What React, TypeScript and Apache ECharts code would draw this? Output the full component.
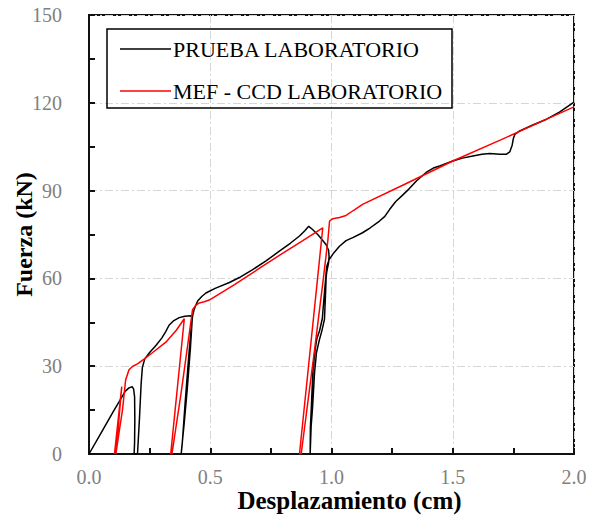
import React, { useEffect, useRef } from "react";
import * as echarts from "echarts";

const xTicks = { min: 0, max: 2, interval: 0.5 };
const yTicks = { min: 0, max: 150, interval: 30 };

const pruebaName = "PRUEBA LABORATORIO";
const mefName = "MEF - CCD LABORATORIO";

// Black curve: laboratory test (displacement cm, force kN)
const pruebaX = [
  0, 0.05, 0.1, 0.15, 0.165, 0.178, 0.184, 0.188, 0.189, 0.188, 0.186,
  0.2, 0.208, 0.215, 0.22, 0.23, 0.25, 0.275, 0.3, 0.317, 0.33, 0.35, 0.372, 0.395, 0.42,
  0.426, 0.418, 0.405, 0.392, 0.38,
  0.384, 0.396, 0.41, 0.422, 0.428, 0.434, 0.448, 0.465, 0.482, 0.52, 0.579, 0.62, 0.675, 0.73, 0.785, 0.83, 0.868, 0.89, 0.906,
  0.922, 0.945, 0.963, 0.978, 0.988, 0.99, 0.988, 0.98, 0.978, 0.976, 0.971, 0.96, 0.95, 0.938, 0.93, 0.922, 0.916, 0.912,
  0.913, 0.917, 0.923, 0.931, 0.939, 0.951, 0.962, 0.972, 0.977, 0.978, 0.981,
  0.99, 1.01, 1.033, 1.06, 1.09, 1.128, 1.16, 1.198, 1.22, 1.24, 1.265, 1.29, 1.32, 1.35, 1.39, 1.42, 1.446, 1.5, 1.54, 1.583, 1.62, 1.653, 1.694, 1.72, 1.735,
  1.745, 1.75, 1.756, 1.776, 1.83, 1.887, 1.94, 2.0,
];
const pruebaY = [
  0, 7.2, 14.5, 21.5, 22.6, 23, 22.2, 19.5, 12, 4, 0,
  0, 12, 24, 29.5, 32.5, 34.7, 37, 39.6, 41.9, 44, 45.6, 46.6, 47.1, 47.2,
  46.5, 36, 22, 10, 0,
  3, 17, 32, 44, 47.5, 49.5, 52.3, 53.8, 55, 56.6, 58.6, 60.3, 63, 66, 69.3, 72, 74.5, 76.3, 77.8,
  76.7, 74.8, 73, 71.5, 69.6, 67.5, 65.4, 62, 60.5, 56, 46, 42, 39, 34.6, 27.7, 16, 9.4, 0,
  9.2, 16.2, 27.8, 34.8, 39.2, 42.2, 46.2, 56.2, 60.8, 62.2, 64.2,
  66.4, 68.8, 71, 72.9, 74, 75.6, 77.3, 79.6, 81.2, 83.6, 86.3, 88.2, 90.6, 93.3, 96.2, 97.7, 98.4, 100.1, 101.1, 101.8, 102.4, 102.7, 102.4, 102.4, 103.2,
  105.5, 107.8, 109.2, 110.4, 112.4, 114.4, 116.8, 120.2,
];

// Red curve: FE model (MEF - CCD)
const mefX = [
  0.105, 0.135, 0.111,
  0.125, 0.138, 0.151, 0.165, 0.179, 0.2, 0.227, 0.26, 0.317, 0.36, 0.393,
  0.337, 0.342, 0.38, 0.41, 0.427, 0.44, 0.455, 0.475, 0.496, 0.6, 0.7, 0.785, 0.88, 0.964,
  0.868, 0.875, 0.93, 0.965, 0.985, 0.992, 1.005, 1.033, 1.06, 1.09, 1.128, 1.3, 1.5, 1.7, 1.887, 2.0,
];
const mefY = [
  0, 23, 0,
  8, 15, 25.3, 28.8, 29.9, 30.8, 32.4, 34.5, 38.2, 42.3, 46.2,
  0, 0, 21, 39, 49.3, 50.8, 51.6, 52, 52.6, 57.9, 63.3, 67.9, 72.8, 77.3,
  0, 0, 35.5, 59, 73, 79.6, 80.4, 80.8, 81.5, 83.2, 85.3, 92.1, 100.1, 107.4, 114.4, 118.6,
];

const zip = (xs: number[], ys: number[]) => xs.map((x, i) => [x, ys[i]]);

const FONT = "Liberation Serif";

export default function App() {
  const ref = useRef<HTMLDivElement>(null);
  useEffect(() => {
    if (!ref.current) return;
    const chart = echarts.init(ref.current, undefined, { renderer: "svg" });
    const splitStyle = { color: "#d6d6d6", width: 1, type: [8, 3, 2, 3] as any };
    chart.setOption({
      animation: false,
      backgroundColor: "#fff",
      grid: {
        left: 89,
        right: 15,
        top: 15,
        bottom: 64,
        containLabel: false,
        outerBoundsMode: "none",
        show: true,
        borderColor: "#111",
        borderWidth: 2,
      },
      legend: {
        orient: "vertical",
        left: 120,
        top: 38,
        padding: 0,
        itemGap: 20,
        itemWidth: 51,
        itemHeight: 1.5,
        icon: "rect",
        data: [pruebaName, mefName],
        textStyle: {
          fontFamily: FONT,
          fontSize: 22,
          color: "#000",
          lineHeight: 20,
          padding: [0, 0, 0, -3],
        },
      },
      graphic: [
        {
          type: "rect",
          shape: { x: 107, y: 29, width: 345, height: 79 },
          style: { fill: "none", stroke: "#000", lineWidth: 1.5 },
          z: 100,
        },
      ],
      xAxis: {
        type: "value",
        min: xTicks.min,
        max: xTicks.max,
        interval: xTicks.interval,
        name: "Desplazamiento (cm)",
        nameLocation: "middle",
        nameGap: 34,
        nameMoveOverlap: false,
        nameTextStyle: {
          fontFamily: FONT,
          fontSize: 25,
          fontWeight: "bold",
          color: "#000",
          padding: [0, 0, 0, 36],
        },
        axisLine: { show: true, lineStyle: { color: "#111", width: 2 } },
        axisTick: { show: true, inside: true, length: 6, lineStyle: { color: "#111", width: 2 } },
        minorTick: { show: true, splitNumber: 2, length: 6, lineStyle: { color: "#111", width: 2 } },
        axisLabel: {
          fontFamily: FONT,
          fontSize: 20,
          color: "#808080",
          margin: 13,
          formatter: (v: number) => v.toFixed(1),
        },
        splitLine: { show: true, lineStyle: splitStyle },
      },
      yAxis: {
        type: "value",
        min: yTicks.min,
        max: yTicks.max,
        interval: yTicks.interval,
        name: "Fuerza (kN)",
        nameLocation: "middle",
        nameGap: 53,
        nameMoveOverlap: false,
        nameTextStyle: { fontFamily: FONT, fontSize: 24, fontWeight: "bold", color: "#000" },
        axisLine: { show: true, lineStyle: { color: "#111", width: 2 } },
        axisTick: { show: true, inside: true, length: 6, lineStyle: { color: "#111", width: 2 } },
        minorTick: { show: true, splitNumber: 2, length: 6, lineStyle: { color: "#111", width: 2 } },
        axisLabel: { fontFamily: FONT, fontSize: 20, color: "#808080", margin: 27 },
        splitLine: { show: true, lineStyle: splitStyle },
      },
      series: [
        {
          name: pruebaName,
          type: "line",
          data: zip(pruebaX, pruebaY),
          showSymbol: false,
          symbol: "none",
          lineStyle: { color: "#000", width: 1.5 },
          itemStyle: { color: "#000" },
          z: 3,
        },
        {
          name: mefName,
          type: "line",
          data: zip(mefX, mefY),
          showSymbol: false,
          symbol: "none",
          lineStyle: { color: "#ff0000", width: 1.5 },
          itemStyle: { color: "#ff0000" },
          z: 4,
        },
      ],
    });
    return () => chart.dispose();
  }, []);
  return <div ref={ref} style={{ width: 589, height: 518, position: "absolute", left: 0, top: 0 }} />;
}
